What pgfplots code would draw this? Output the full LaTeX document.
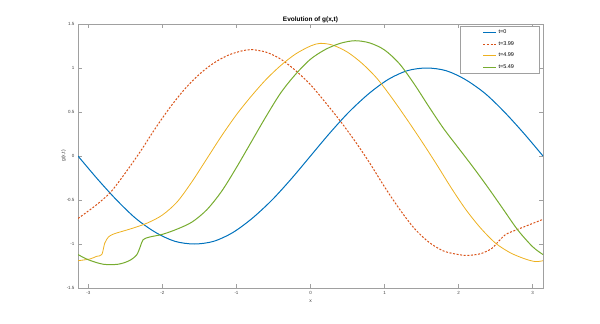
\documentclass[border=0pt]{standalone}
\usepackage{fontspec}
\setmainfont{Liberation Sans}
\usepackage{pgfplots}
\pgfplotsset{compat=1.18}
\definecolor{cblue}{HTML}{0072BD}
\definecolor{corange}{HTML}{D95319}
\definecolor{cyellow}{HTML}{EDB120}
\definecolor{cgreen}{HTML}{77AC30}
\definecolor{axisgray}{HTML}{A0A0A0}
\definecolor{textgray}{HTML}{404040}

\begin{document}
\begin{tikzpicture}
\path[use as bounding box] (0,0) rectangle (600bp,324bp);
\begin{axis}[
    at={(78bp,36bp)}, anchor=south west,
    scale only axis, width=465bp, height=264bp,
    xmin=-3.14159, xmax=3.14159, ymin=-1.5, ymax=1.5,
    xtick={-3,-2,-1,0,1,2,3},
    ytick={-1.5,-1,-0.5,0,0.5,1,1.5},
    tick align=inside, major tick length=4bp,
    axis line style={draw=axisgray, line width=0.6bp},
    tick style={draw=axisgray, line width=0.5bp},
    /pgf/number format/assume math mode=true,
    ticklabel style={font=\fontsize{4.5}{5}\selectfont, text=textgray},
    title={Evolution of g(x,t)},
    title style={font=\bfseries\fontsize{6.5}{7}\selectfont, yshift=-8bp},
    xlabel={x}, ylabel={g(x,t)},
    label style={font=\fontsize{5}{6}\selectfont, text=textgray},
    xlabel style={yshift=1.5bp},
    ylabel style={yshift=-6bp},
    legend style={at={(0.9914,0.9924)}, anchor=north east, draw=axisgray,
        font=\fontsize{5.5}{6}\selectfont, inner xsep=23bp, inner ysep=2bp,
        row sep=2.6bp, nodes={inner sep=1.8bp}},
    legend cell align=left,
    legend image code/.code={\draw[#1] (0bp,0bp) -- (13bp,0bp);},
]
% t=0
\addplot[cblue, line width=1bp, smooth] coordinates {
    (-3.1416,0) (-2.88,-0.26) (-2.62,-0.50) (-2.36,-0.71) (-2.09,-0.87)
    (-1.83,-0.97) (-1.57,-1.00) (-1.31,-0.97) (-1.05,-0.87) (-0.79,-0.71)
    (-0.52,-0.50) (-0.26,-0.26) (0,0) (0.26,0.26) (0.52,0.50) (0.79,0.71)
    (1.05,0.87) (1.31,0.97) (1.57,1.00) (1.83,0.97) (2.09,0.87) (2.36,0.71)
    (2.62,0.50) (2.88,0.26) (3.1416,0)
};
% t=3.99
\addplot[corange, line width=1bp, dash pattern=on 2bp off 1.6bp, smooth] coordinates {
    (-3.1416,-0.71) (-2.9,-0.56) (-2.7,-0.41) (-2.5,-0.19) (-2.3,0.05)
    (-2.1,0.31) (-1.9,0.55) (-1.7,0.76) (-1.5,0.93) (-1.3,1.06)
    (-1.1,1.15) (-0.9,1.20) (-0.8,1.21) (-0.6,1.18) (-0.4,1.10)
    (-0.2,0.97) (0,0.81) (0.2,0.61) (0.4,0.40) (0.6,0.17)
    (0.8,-0.08) (1.0,-0.35) (1.2,-0.60) (1.4,-0.82) (1.6,-0.98)
    (1.8,-1.08) (2.0,-1.12) (2.12,-1.13) (2.3,-1.11) (2.45,-1.05)
    (2.54,-0.97) (2.64,-0.89) (2.75,-0.85) (2.9,-0.80) (3.1416,-0.72)
};
% t=4.99
\addplot[cyellow, line width=0.8bp, smooth] coordinates {
    (-3.1416,-1.19) (-2.98,-1.17) (-2.89,-1.14) (-2.82,-1.12) (-2.78,-0.99)
    (-2.73,-0.92) (-2.67,-0.89) (-2.6,-0.87) (-2.4,-0.82) (-2.2,-0.76)
    (-2.0,-0.67) (-1.8,-0.52) (-1.6,-0.29) (-1.4,-0.03) (-1.2,0.23)
    (-1.0,0.47) (-0.8,0.68) (-0.6,0.87) (-0.4,1.03) (-0.2,1.16)
    (0,1.25) (0.13,1.28) (0.3,1.26) (0.5,1.18) (0.7,1.05)
    (0.9,0.88) (1.1,0.66) (1.3,0.42) (1.5,0.17) (1.7,-0.09)
    (1.9,-0.36) (2.1,-0.61) (2.3,-0.82) (2.5,-0.99) (2.7,-1.10)
    (2.9,-1.17) (3.04,-1.20) (3.1416,-1.19)
};
% t=5.49
\addplot[cgreen, line width=1bp, smooth] coordinates {
    (-3.1416,-1.12) (-3.0,-1.18) (-2.8,-1.23) (-2.6,-1.23) (-2.45,-1.19)
    (-2.35,-1.125) (-2.30,-1.03) (-2.26,-0.95) (-2.17,-0.92) (-2.0,-0.89)
    (-1.8,-0.83) (-1.6,-0.75) (-1.4,-0.61) (-1.2,-0.40) (-1.0,-0.13)
    (-0.8,0.16) (-0.6,0.45) (-0.4,0.72) (-0.2,0.93) (0,1.10)
    (0.2,1.21) (0.4,1.28) (0.6,1.31) (0.8,1.285) (1.0,1.205)
    (1.2,1.05) (1.4,0.82) (1.6,0.56) (1.8,0.31) (2.0,0.09)
    (2.2,-0.13) (2.4,-0.36) (2.6,-0.60) (2.8,-0.84) (3.0,-1.03)
    (3.1416,-1.12)
};
\legend{t=0, t=3.99, t=4.99, t=5.49}
\end{axis}
\end{tikzpicture}
\end{document}
